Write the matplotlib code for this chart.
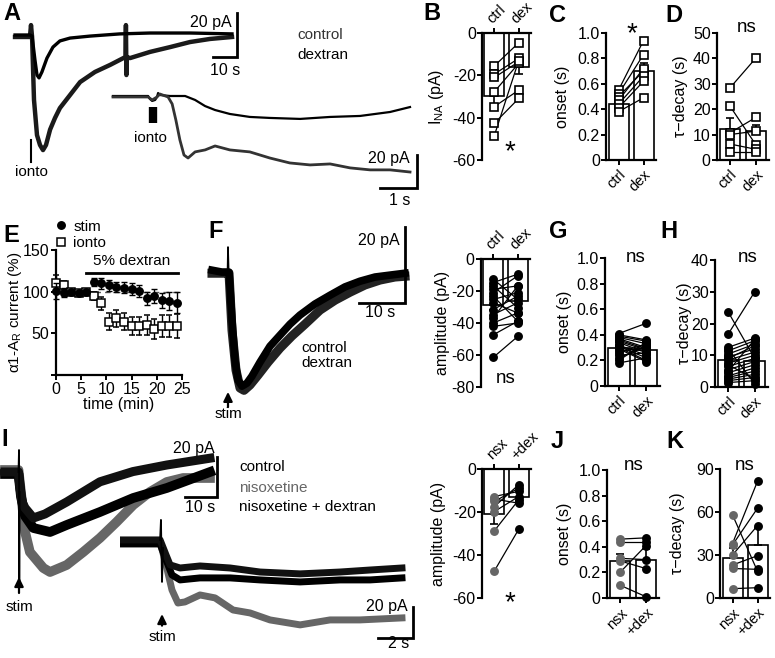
import numpy as np
import matplotlib
matplotlib.use("Agg")
import matplotlib.pyplot as plt
from matplotlib.lines import Line2D

plt.rcParams['font.family'] = ['Liberation Sans', 'DejaVu Sans']
plt.rcParams['font.size'] = 10.5
plt.rcParams['axes.linewidth'] = 1.6
plt.rcParams['xtick.major.width'] = 1.4
plt.rcParams['ytick.major.width'] = 1.4
plt.rcParams['xtick.major.size'] = 3.5
plt.rcParams['ytick.major.size'] = 3.5

W, H = 775, 658
GRAY = "#666666"

# ---------------- trace data (time in s, current in pA) ----------------
# A, main traces
a_ctrl_t = [2.1, 8.3, 9.2, 10.4, 11.25, 12.1, 13.3, 15.4, 17.9, 20.8, 25.0, 33.3, 45.8, 58.3, 75.0, 92.5]
a_ctrl_i = [0, 0, -0.5, -11.4, -18.2, -19.5, -16.8, -10.5, -5.5, -2.7, -1.4, -0.5, 0.5, 0.9, 0.9, 0.5]
a_dex_t = [2.1, 8.3, 8.75, 9.2, 10.0, 11.25, 12.5, 13.75, 15.0, 16.7, 18.75, 20.8, 25.0, 29.2, 35.4,
           41.7, 48.1, 48.3, 48.5, 48.6, 50.0, 58.3, 66.7, 75.0, 83.3, 92.5]
a_dex_i = [-0.9, -0.9, 4.5, -0.9, -29.5, -45.5, -50.0, -52.3, -50.0, -43.0, -37.7, -33.2, -27.3, -21.4, -16.8,
           -13.6, -10.0, 4.5, -18.2, -10.0, -10.5, -7.7, -5.5, -3.2, -1.8, -0.9]
# A, inset (zoom on onset)
ai_ctrl_t = [0.08, 1.03, 1.08, 1.14, 1.22, 1.27, 1.30, 1.35, 1.62, 2.03, 2.30, 2.57, 2.84, 3.24, 3.78,
             4.32, 5.14, 5.95, 6.76, 7.57, 8.11]
ai_ctrl_i = [0, 0, -1.8, -3.0, -2.4, -0.6, 1.8, 0.6, 0, 0, -2.4, -6.1, -8.5, -10.9, -12.7,
             -13.3, -13.9, -12.7, -12.1, -9.7, -6.7]
ai_dex_t = [0.08, 1.03, 1.14, 1.27, 1.35, 1.57, 1.68, 1.78, 1.89, 2.0, 2.11, 2.30, 2.57, 2.84, 3.24,
            3.78, 4.32, 4.86, 5.41, 5.95, 6.49, 7.03, 7.57, 8.11]
ai_dex_i = [-0.6, -0.6, -2.4, -0.6, 1.2, -0.6, -4.8, -14.5, -26.7, -35.8, -37.6, -33.9, -32.7, -30.3, -32.7,
            -33.9, -37.6, -40.6, -41.8, -41.2, -43.6, -44.8, -44.8, -46.1]
# F
f_ctrl_t = [1.52, 3.70, 4.78, 5.22, 5.87, 6.52, 7.17, 8.04, 9.13, 10.2, 11.96, 14.13, 16.3, 18.48,
            20.65, 23.9, 27.17, 30.43, 33.7, 36.96, 40.2, 43.48]
f_ctrl_i = [0.5, 0, 0, 0, -12.6, -23.2, -28.4, -30.0, -29.2, -27.4, -23.7, -19.5, -16.6, -13.7,
            -11.3, -8.4, -6.1, -3.9, -2.4, -1.3, -0.8, -0.3]
f_dex_t = [1.52, 4.78, 5.22, 5.87, 6.74, 7.61, 8.48, 9.78, 11.52, 13.7, 16.3, 18.9, 21.74, 25.0,
           28.26, 31.52, 34.78, 38.04, 41.3, 43.48]
f_dex_i = [-0.3, -0.3, -0.3, -15.3, -25.8, -30.5, -31.1, -29.7, -27.1, -23.7, -20.0, -16.8, -13.7, -10.0,
           -7.4, -5.3, -3.4, -2.1, -1.3, -1.1]
f_art_t = [4.9, 5.0, 5.15]          # stimulus artefact
f_art_i = [0, 6.6, 0]
# I, main traces
i_ctrl_t = [0.63, 4.84, 5.3, 5.94, 6.9, 9.5, 13.1, 19.9, 30.3, 40.6, 51.2, 64.7]
i_ctrl_i = [0, 0, -8, -15, -18, -23, -21, -15, -4.9, 0.2, 3.5, 6.9]
i_nsx_t = [0.63, 4.84, 5.6, 6.9, 8.4, 12.6, 14.7, 19.9, 25.1, 30.3, 35.5, 40.7, 45.9, 51.2, 56.3, 64.7]
i_nsx_i = [1, 1, -10, -30, -40, -48, -50, -46.5, -40, -33, -25, -16.5, -10, -5, -3, -3]
i_nd_t = [0.63, 4.84, 5.6, 6.9, 9.5, 14.7, 19.9, 30.3, 40.7, 51.2, 64.7]
i_nd_i = [-1, -1, -12, -22, -28, -30, -26.5, -20, -13, -8, 0]
i_art_t = [4.84, 5.0, 5.09, 5.19]
i_art_i = [0, 11, -56, -10]
# I, inset
ii_ctrl_t = [0.17, 2.29, 2.63, 2.86, 3.43, 4.57, 6.29, 8.0, 10.29, 12.57, 14.29, 16.11]
ii_ctrl_i = [1.3, 1.3, -8.4, -14.8, -16.8, -15.5, -16.8, -19.4, -20.6, -19.4, -18.1, -16.8]
ii_nd_t = [0.17, 2.29, 2.63, 2.97, 3.43, 4.57, 6.29, 8.0, 10.29, 12.57, 14.29, 16.11]
ii_nd_i = [-1.3, -1.3, -11.6, -21.3, -24.5, -23.2, -23.2, -24.5, -25.8, -24.5, -24.5, -23.2]
ii_nsx_t = [0.17, 2.29, 2.63, 2.97, 3.31, 3.71, 4.57, 5.43, 6.46, 7.43, 8.57, 10.29, 12.0, 13.71, 16.11]
ii_nsx_i = [0, 0, -14.8, -31.0, -39.4, -38.7, -34.2, -36.1, -43.9, -45.8, -50.3, -53.5, -50.3, -50.3, -49.0]
ii_art_t = [2.29, 2.34, 2.40, 2.46]
ii_art_i = [1.3, 14.2, -25.8, -3.9]

# ---------------- summary data ----------------
b_ctrl = [-15.6, -19.4, -21.0, -27.8, -34.8, -42.7, -48.6]
b_dex = [-4.6, -12.0, -13.6, -14.3, -27.0, -30.9, -13.0]
b_mean, b_err = [-29.8, -16.0], [4.5, 3.5]

c_ctrl = [0.55, 0.52, 0.50, 0.47, 0.44, 0.41, 0.38]
c_dex = [0.94, 0.83, 0.70, 0.72, 0.66, 0.62, 0.49]
c_mean, c_err = [0.44, 0.70], [0.025, 0.06]

d_ctrl = [28.4, 21.2, 10.7, 10.0, 6.3, 3.3]
d_dex = [40.2, 5.9, 16.8, 11.4, 4.2, 3.3]
d_mean, d_err = [12.4, 11.4], [4.0, 2.3]

e_time = [0, 1.5, 3, 4.5, 6, 7.5, 9, 10.5, 12, 13.5, 15, 16.5, 18, 19.5, 21, 22.5, 24]
e_stim = [101, 99, 100, 99, 100, 112, 110, 107.5, 106, 105, 103, 101, 92, 95, 90, 89, 87]
e_stim_err = [10, 5, 3, 3, 3, 5, 7, 7, 6, 7, 7, 7, 8, 8, 9, 11, 13]
e_ionto = [110, 107.5, 100, 99, 100, 95, 86, 64, 68, 64, 59, 59, 60, 55, 59, 59, 59]
e_ionto_err = [10, 5, 3, 3, 3, 5, 8, 10, 10, 10, 11, 11, 12, 12, 13, 13, 14]

f_ctrl = [-12.6, -14.7, -16.8, -18.9, -21.0, -23.2, -25.3, -27.4, -31.6, -34.7, -36.8, -40.0, -42.1, -47.4, -61.5]
f_dex = [-25.3, -9.5, -30.5, -16.8, -10.5, -38.9, -21.0, -33.7, -23.2, -27.4, -16.8, -33.7, -40.0, -38.9, -48.4]
f_mean, f_err = [-28.7, -26.2], [3.2, 2.8]

g_ctrl = [0.41, 0.40, 0.39, 0.38, 0.37, 0.36, 0.35, 0.34, 0.32, 0.31, 0.30, 0.29, 0.27, 0.26, 0.24, 0.22, 0.20, 0.18]
g_dex = [0.49, 0.36, 0.35, 0.33, 0.30, 0.29, 0.28, 0.26, 0.24, 0.22, 0.20, 0.19, 0.30, 0.33, 0.26, 0.31, 0.34, 0.22]
g_mean, g_err = [0.30, 0.28], [0.02, 0.02]

h_ctrl = [23.6, 16.7, 12.5, 11.4, 10.4, 9.5, 8.5, 7.5, 6.5, 5.5, 4.5, 3.5, 3.0, 2.5, 2.0, 1.4, 12.0, 9.0, 7.0, 5.0]
h_dex = [9.0, 30.0, 15.4, 14.6, 13.5, 12.0, 11.0, 10.0, 9.0, 8.0, 7.0, 6.0, 5.0, 4.0, 3.0, 2.0, 1.0, 13.0, 2.5, 15.0]
h_mean, h_err = [8.5, 8.2], [1.3, 1.4]

i_nsx = [-12.8, -15.1, -17.5, -19.8, -28.8, -47.5, -14.0]
i_dex = [-10.4, -8.9, -7.3, -12.8, -14.3, -28.0, -15.9]
i_mean, i_err = [-20.9, -12.8], [4.8, 2.2]

j_nsx = [0.46, 0.44, 0.31, 0.29, 0.20, 0.10]
j_dex = [0.47, 0.44, 0.30, 0.23, 0.41, 0.01]
j_mean, j_err = [0.286, 0.30], [0.06, 0.08]

k_nsx = [58, 38, 37, 30, 23, 20.6, 6.5]
k_dex = [18.7, 81.4, 62.6, 50.5, 29.5, 20.0, 7.2]
k_mean, k_err = [28, 37], [6.6, 11.6]

onset_ticks = [0, 0.2, 0.4, 0.6, 0.8, 1.0]
onset_labels = ["0", "0.2", "0.4", "0.6", "0.8", "1.0"]

fig = plt.figure(figsize=(W / 100, H / 100), dpi=100)


def box(x0, y0, x1, y1):
    return fig.add_axes([x0 / W, 1 - y1 / H, (x1 - x0) / W, (y1 - y0) / H])


def ftext(x, y, s, **kw):
    fig.text(x / W, 1 - y / H, s, **kw)


def trace_axes(x0, y0, x1, y1, xlim, ylim):
    ax = box(x0, y0, x1, y1)
    ax.set_xlim(*xlim)
    ax.set_ylim(*ylim)
    ax.axis("off")
    return ax


def scalebar(ax, x, y, dx, dy, ylab, xlab, ylab_pos, xlab_pos):
    ax.plot([x - dx, x, x], [y, y, y + dy], color="k", lw=2, clip_on=False,
            solid_joinstyle="miter")
    ax.text(*ylab_pos, ylab, ha="right", va="center", fontsize=11.5)
    ax.text(*xlab_pos, xlab, ha="center", va="center", fontsize=11.5)


def stim_arrow(ax, x, y_head, y_tail, y_txt):
    ax.annotate("", xy=(x, y_head), xytext=(x, y_tail),
                arrowprops=dict(arrowstyle="-|>,head_length=0.45,head_width=0.22", color="k",
                                lw=1.6, mutation_scale=12, shrinkA=0, shrinkB=0),
                annotation_clip=False)
    ax.text(x, y_txt, "stim", ha="center", va="center", fontsize=11)


def set_ylabel(ax, text, label_x, x0, x1, size=11.5):
    ax.set_ylabel(text, fontsize=size)
    ax.yaxis.set_label_coords((label_x - x0) / (x1 - x0), 0.5)
    ax.yaxis.label.set_verticalalignment("center")


def pair_panel(x0, y0, x1, y1, a, b, mean, err, ylim, yticks, ylabels, labels, ylabel, label_x,
               inverted=False, marker="s", ca="k", cb="k", filled=False, ms=5.2):
    ax = box(x0, y0, x1, y1)
    ax.set_xlim(-0.5, 1.5)
    ax.set_ylim(*ylim)
    ax.bar([0, 1], mean, width=0.8, color="white", edgecolor="k", lw=1.2, zorder=1)
    for i, (m, e) in enumerate(zip(mean, err)):
        yerr = [[e], [0]] if m < 0 else [[0], [e]]
        ax.errorbar([i], [m], yerr=yerr, color="k", lw=1.2, capsize=3, capthick=1.2, zorder=2)
    for va, vb in zip(a, b):
        ax.plot([0, 1], [va, vb], color="k", lw=0.9, zorder=3)
    for xi, vals, c in ((0, a, ca), (1, b, cb)):
        ax.plot([xi] * len(vals), vals, linestyle="none", marker=marker, ms=ms,
                mfc=c if filled else "white", mec=c, mew=1.2, zorder=4, clip_on=False)
    ax.set_yticks(yticks)
    ax.set_yticklabels(ylabels, fontsize=11.5)
    ax.tick_params(axis="y", pad=1)
    ax.set_xticks([0, 1])
    ax.spines["right"].set_visible(False)
    if inverted:
        ax.spines["bottom"].set_visible(False)
        ax.xaxis.tick_top()
        ax.tick_params(axis="x", pad=1.5)
        ax.set_xticklabels(labels, rotation=45, ha="left", rotation_mode="anchor", fontsize=10.5)
    else:
        ax.spines["top"].set_visible(False)
        ax.tick_params(axis="x", pad=2)
        ax.set_xticklabels(labels, rotation=45, ha="right", rotation_mode="anchor", fontsize=10.5)
    set_ylabel(ax, ylabel, label_x, x0, x1)
    return ax


# ---------------- A ----------------
axA = trace_axes(10, 10, 240, 180, (0, 95.83), (-65.9, 11.36))
axA.plot(a_dex_t, a_dex_i, color="#1a1a1a", lw=3.2)
axA.plot(a_ctrl_t, a_ctrl_i, color="k", lw=2.4)
axA.plot([8.75, 8.75], [-47.7, -57.7], color="k", lw=1.5)
axA.text(8.75, -62.3, "ionto", ha="center", va="center", fontsize=11)
scalebar(axA, 94.6, -10, 10, 20, "20 pA", "10 s", (92.5, 5.9), (89.6, -16.3))
ftext(297, 35, "control", fontsize=11, color="#333333", va="center")
ftext(297, 55, "dextran", fontsize=11, color="k", va="center")

axAi = trace_axes(110, 85, 420, 205, (0, 8.38), (-66.1, 6.67))
axAi.plot(ai_ctrl_t, ai_ctrl_i, color="k", lw=1.6)
axAi.plot(ai_dex_t, ai_dex_i, color="#333333", lw=2.0)
axAi.plot([1.17, 1.17], [-6.7, -16.4], color="k", lw=6, solid_capstyle="butt")
axAi.text(1.08, -25.5, "ionto", ha="center", va="center", fontsize=11)
scalebar(axAi, 8.30, -55.8, 1.0, 20, "20 pA", "1 s", (8.1, -37.6), (7.84, -63.5))

# ---------------- B, C, D ----------------
pair_panel(482, 33, 531, 160, b_ctrl, b_dex, b_mean, b_err, (-60, 0), [0, -20, -40, -60],
           ["0", "-20", "-40", "-60"], ["ctrl", "dex"], "I$_\\mathregular{NA}$ (pA)", 436, inverted=True)
pair_panel(606, 33, 656, 160, c_ctrl, c_dex, c_mean, c_err, (0, 1.0), onset_ticks, onset_labels,
           ["ctrl", "dex"], "onset (s)", 562)
pair_panel(717, 33, 769, 160, d_ctrl, d_dex, d_mean, d_err, (0, 50), [0, 10, 20, 30, 40, 50],
           ["0", "10", "20", "30", "40", "50"], ["ctrl", "dex"], "τ−decay (s)", 680)

# ---------------- E ----------------
axE = box(56, 250, 182, 375)
axE.set_xlim(0, 25)
axE.set_ylim(0, 150)
axE.plot([0, 25], [100, 100], color="#555555", lw=1, ls=(0, (4, 3)), zorder=1)
axE.errorbar(e_time, e_ionto, yerr=e_ionto_err, fmt="s", ms=5.2, mfc="white", mec="k", mew=1.1,
             ecolor="k", elinewidth=1, capsize=2.5, zorder=3, clip_on=False)
axE.errorbar(e_time, e_stim, yerr=e_stim_err, fmt="o", ms=5.4, mfc="k", mec="k",
             ecolor="k", elinewidth=1, capsize=2.5, zorder=4, clip_on=False)
axE.plot([6, 24.3], [123, 123], color="k", lw=2)
axE.text(15.1, 128, "5% dextran", ha="center", va="bottom", fontsize=11)
axE.spines["top"].set_visible(False)
axE.spines["right"].set_visible(False)
axE.set_xticks([0, 5, 10, 15, 20, 25])
axE.set_xticklabels(["0", "5", "10", "15", "20", "25"], fontsize=11.5)
axE.set_yticks([0, 50, 100, 150])
axE.set_yticklabels(["", "50", "100", "150"], fontsize=11.5)
axE.tick_params(axis="both", pad=1.5)
axE.set_xlabel("time (min)", fontsize=11.5, labelpad=0)
set_ylabel(axE, "α1-A$_\\mathregular{R}$ current (%)", 15, 56, 182, size=11)
handles = [Line2D([], [], ls="none", marker="o", ms=5.4, mfc="k", mec="k"),
           Line2D([], [], ls="none", marker="s", ms=5.2, mfc="white", mec="k", mew=1.1)]
axE.legend(handles, ["stim", "ionto"], loc="lower left", bbox_to_anchor=(-0.01, 1.0), frameon=False,
           handlelength=0.8, handletextpad=0.4, labelspacing=0.15, borderpad=0, borderaxespad=0,
           fontsize=11)

# ---------------- F ----------------
axF = trace_axes(205, 220, 410, 420, (0, 44.57), (-38.9, 13.7))
axF.plot(f_dex_t, f_dex_i, color="#222222", lw=6.5)
axF.plot(f_ctrl_t, f_ctrl_i, color="k", lw=5.5)
axF.plot(f_art_t, f_art_i, color="k", lw=1.2)
scalebar(axF, 43.5, -8.2, 10, 20, "20 pA", "10 s", (42.4, 8.4), (38.0, -10.6))
stim_arrow(axF, 5.0, -31.5, -35.5, -37.3)
ftext(301, 348, "control", fontsize=11, va="center")
ftext(301, 363, "dextran", fontsize=11, va="center")

pair_panel(481, 259, 530, 387, f_ctrl, f_dex, f_mean, f_err, (-80, 0), [0, -20, -40, -60, -80],
           ["0", "-20", "-40", "-60", "-80"], ["ctrl", "dex"], "amplitude (pA)", 443,
           inverted=True, marker="o", filled=True)
pair_panel(605, 258, 660, 386, g_ctrl, g_dex, g_mean, g_err, (0, 1.0), onset_ticks, onset_labels,
           ["ctrl", "dex"], "onset (s)", 564, marker="o", filled=True)
pair_panel(715, 260, 768, 387, h_ctrl, h_dex, h_mean, h_err, (0, 40), [0, 10, 20, 30, 40],
           ["0", "10", "20", "30", "40"], ["ctrl", "dex"], "τ−decay (s)", 684, marker="o", filled=True)

# ---------------- I ----------------
axI = trace_axes(0, 440, 225, 615, (-0.94, 69.4), (-71.5, 16))
axI.plot(i_nsx_t, i_nsx_i, color=GRAY, lw=7)
axI.plot(i_nd_t, i_nd_i, color="k", lw=7)
axI.plot(i_ctrl_t, i_ctrl_i, color="#111111", lw=6.5)
axI.plot(i_art_t, i_art_i, color="k", lw=1.3)
scalebar(axI, 66.9, -12.5, 10, 20, "20 pA", "10 s", (66.25, 12.0), (61.6, -17.8))
stim_arrow(axI, 5.0, -52.5, -60.5, -67.5)
ftext(239, 467, "control", fontsize=11, va="center")
ftext(239, 488, "nisoxetine", fontsize=11, va="center", color=GRAY)
ftext(239, 507, "nisoxetine + dextran", fontsize=11, va="center")

axIi = trace_axes(120, 510, 420, 650, (0, 17.14), (-69.7, 20.6))
axIi.plot(ii_nsx_t, ii_nsx_i, color=GRAY, lw=5)
axIi.plot(ii_nd_t, ii_nd_i, color="k", lw=5)
axIi.plot(ii_ctrl_t, ii_ctrl_i, color="#111111", lw=5)
axIi.plot(ii_art_t, ii_art_i, color="k", lw=1.3)
scalebar(axIi, 16.74, -61.9, 2, 20, "20 pA", "2 s", (16.46, -41.9), (15.9, -65.8))
stim_arrow(axIi, 2.4, -46.5, -54.0, -61.3)

pair_panel(482, 469, 531, 598, i_nsx, i_dex, i_mean, i_err, (-60, 0), [0, -20, -40, -60],
           ["0", "-20", "-40", "-60"], ["nsx", "+dex"], "amplitude (pA)", 438,
           inverted=True, marker="o", filled=True, ca=GRAY)
pair_panel(607, 470, 659, 598, j_nsx, j_dex, j_mean, j_err, (0, 1.0), onset_ticks, onset_labels,
           ["nsx", "+dex"], "onset (s)", 564, marker="o", filled=True, ca=GRAY)
pair_panel(720, 469, 770, 598, k_nsx, k_dex, k_mean, k_err, (0, 90), [0, 30, 60, 90],
           ["0", "30", "60", "90"], ["nsx", "+dex"], "τ−decay (s)", 678, marker="o", filled=True, ca=GRAY)

# ---------------- significance marks ----------------
for x, y, s in [(510, 152, "*"), (632, 34, "*"), (510, 603, "*")]:
    ftext(x, y, s, ha="center", va="center", fontsize=20)
for x, y in [(747, 27), (636, 257), (748, 258), (506, 378), (634, 465), (745, 465)]:
    ftext(x, y, "ns", ha="center", va="center", fontsize=13.5)

# ---------------- panel letters ----------------
for x, y, s in [(12, 13, "A"), (432, 14, "B"), (557, 16, "C"), (674, 16, "D"), (11, 235, "E"),
                (216, 231, "F"), (558, 231, "G"), (669, 231, "H"), (5, 439, "I"), (557, 442, "J"),
                (675, 442, "K")]:
    ftext(x, y, s, ha="center", va="center", fontsize=17, fontweight="bold")

fig.savefig("out.png", dpi=100)
